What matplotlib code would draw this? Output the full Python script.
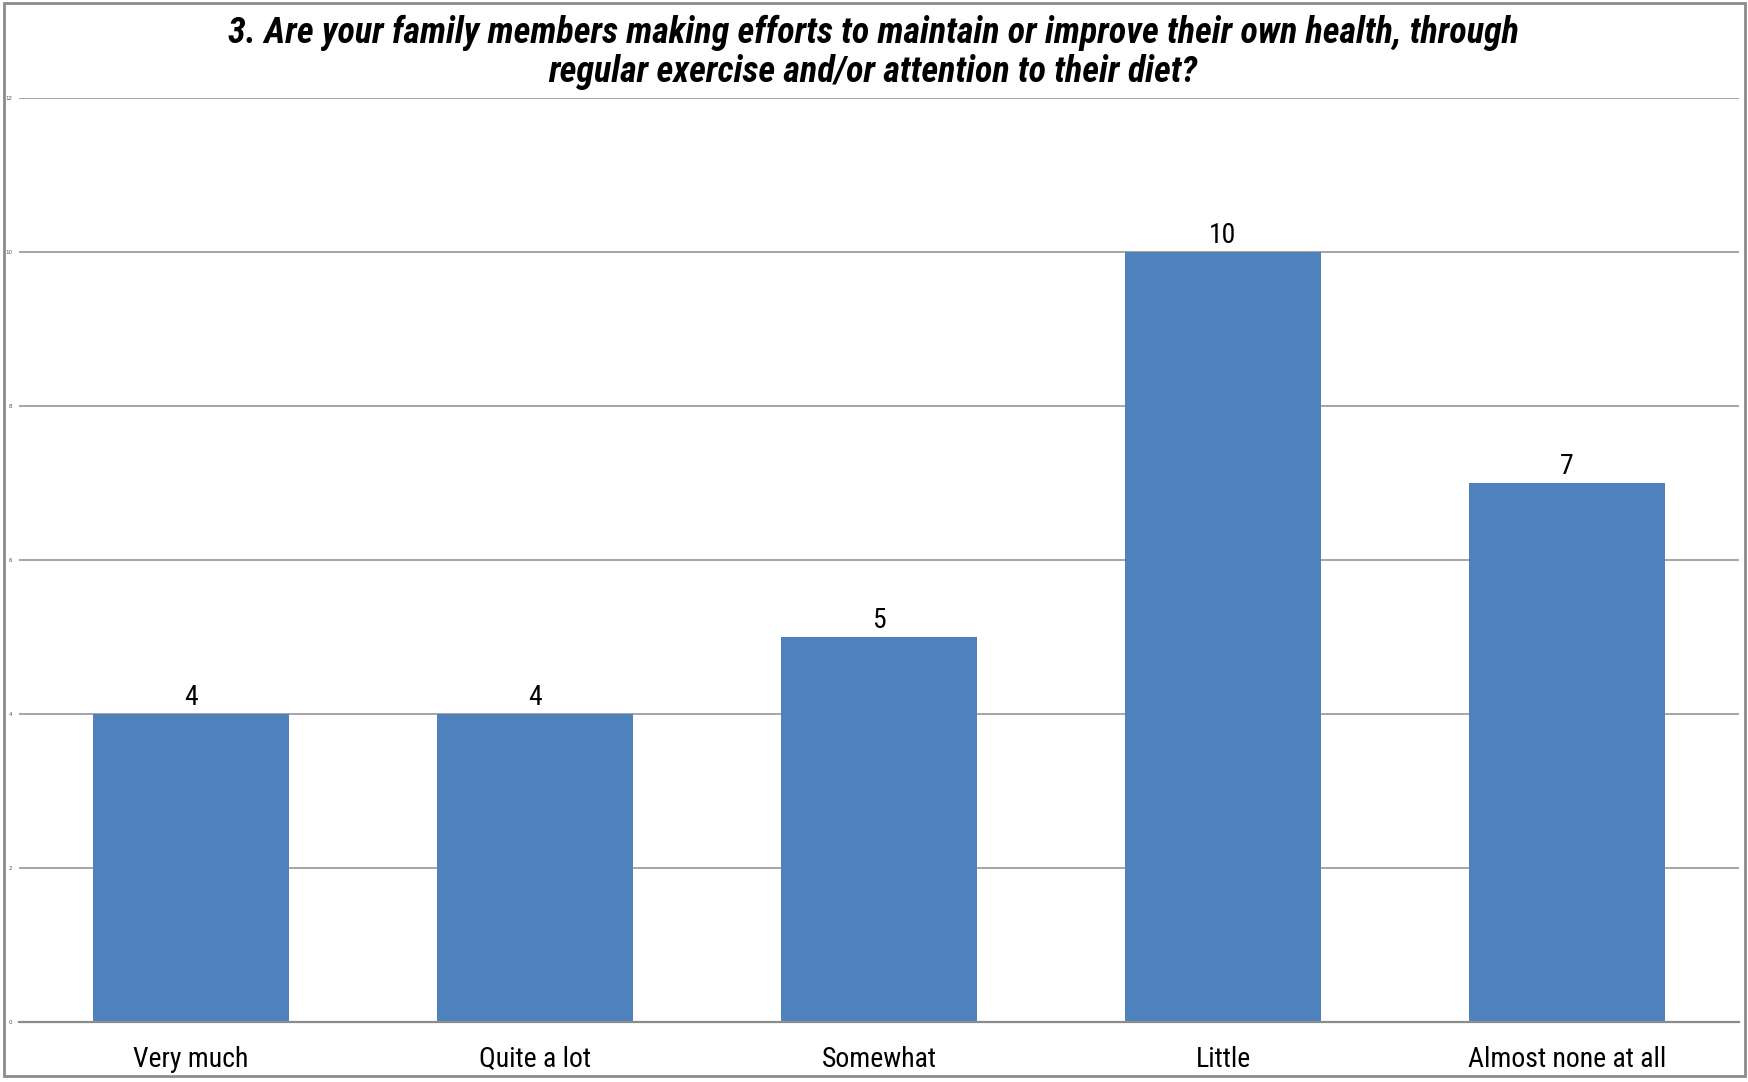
import matplotlib
matplotlib.use("Agg")
import matplotlib.pyplot as plt
from matplotlib.patches import Rectangle

categories = ["Very much", "Quite a lot", "Somewhat", "Little", "Almost none at all"]
values = [4, 4, 5, 10, 7]
yticks = [0, 2, 4, 6, 8, 10, 12]
title_lines = ["3. Are your family members making efforts to maintain or improve their own health, through",
               "regular exercise and/or attention to their diet?"]

W, H = 1748, 1082
fig = plt.figure(figsize=(W / 100, H / 100), dpi=100)
fig.patch.set_facecolor("white")

narrow = ["Roboto Condensed", "Liberation Sans", "DejaVu Sans"]

# outer frame
fig.add_artist(Rectangle((3.5 / W, 6 / H), (1745 - 3.5) / W, (1079 - 6) / H,
                         transform=fig.transFigure, fill=False,
                         edgecolor="#8c8c8c", linewidth=2))

left, right, top, bottom = 19, 1739, 98, 1022
ax = fig.add_axes([left / W, (H - bottom) / H, (right - left) / W, (bottom - top) / H])

x = list(range(len(categories)))
bars = ax.bar(x, values, width=0.57, color="#4F81BD", zorder=3)
ax.set_xlim(-0.5, len(categories) - 0.5)
ax.set_ylim(0, 12)
ax.set_yticks(yticks)
ax.set_yticklabels([str(t) for t in yticks], fontsize=4, color="#3a5a6a")
ax.set_xticks(x)
ax.set_xticklabels(categories, fontsize=20, family=narrow)
ax.tick_params(axis="y", length=0, pad=5)
ax.tick_params(axis="x", length=0, pad=17)
ax.yaxis.grid(True, color="#8c8c8c", linewidth=1.1, zorder=0)
for s in ["top", "right", "left"]:
    ax.spines[s].set_visible(False)
ax.spines["bottom"].set_color("#8c8c8c")
ax.spines["bottom"].set_linewidth(1.6)
ax.spines["bottom"].set_zorder(4)

for b, v in zip(bars, values):
    ax.annotate(str(v), (b.get_x() + b.get_width() / 2, v), xytext=(0, 2),
                textcoords="offset points", ha="center", va="bottom",
                fontsize=20, family=narrow)

for line, yc in zip(title_lines, [33, 72]):
    fig.text(873 / W, 1 - yc / H, line, ha="center", va="center", fontsize=26,
             fontweight="bold", fontstyle="italic", family=narrow)

fig.savefig("out.png", dpi=100)
